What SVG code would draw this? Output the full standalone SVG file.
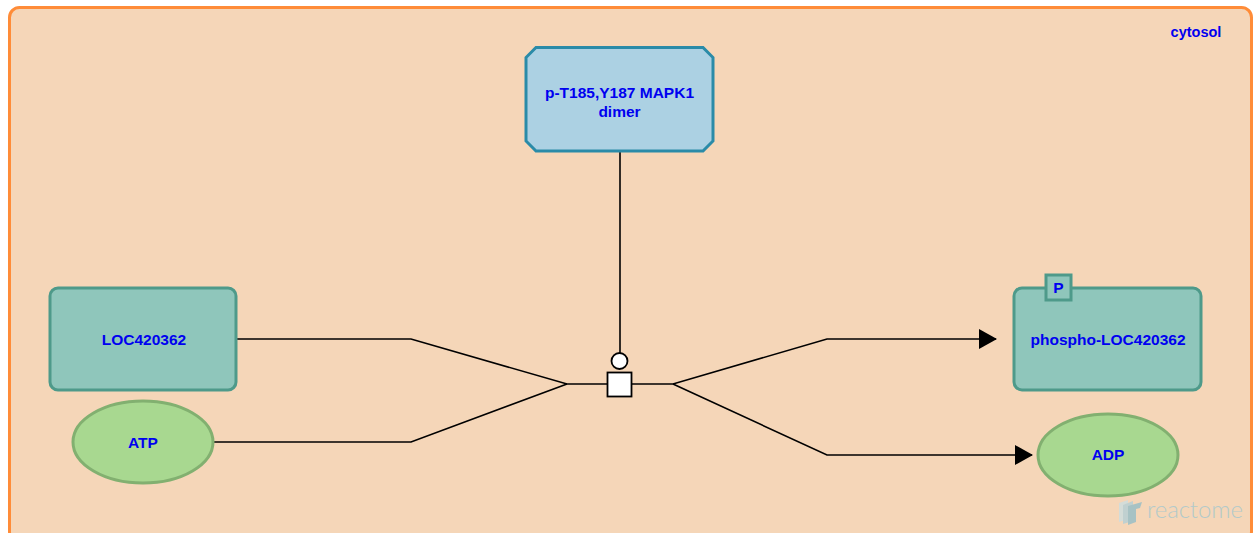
<svg xmlns="http://www.w3.org/2000/svg" width="1257" height="533" viewBox="0 0 1257 533">
<defs>
<style>
.lbl{font-family:"Liberation Sans",Arial,sans-serif;font-weight:bold;font-size:15.5px;fill:#0000F0;text-anchor:middle}
.prot{fill:#8FC6BB;stroke:#4E9A8A;stroke-width:3}
.chem{fill:#A8D890;stroke:#82B070;stroke-width:3}
.cplx{fill:#ACD1E3;stroke:#2A8BA8;stroke-width:3}
.edge{fill:none;stroke:#000;stroke-width:1.6}
</style>
<marker id="arrow" markerWidth="18" markerHeight="20" refX="17" refY="10" orient="auto" markerUnits="userSpaceOnUse" viewBox="0 0 18 20">
<path d="M0,0 L18,10 L0,20 Z" fill="#000"/>
</marker>
</defs>
<g id="cytosol">
<rect x="9.5" y="7.5" width="1242" height="534" rx="10" fill="#F5D6B8" stroke="#FF8C38" stroke-width="3"/>
<text class="lbl" x="1196" y="37" style="font-size:14.5px">cytosol</text>
</g>
<g id="connectors">
<polyline class="edge" points="237,339 411,339 567,384 607,384"/>
<polyline class="edge" points="214,442 411,442 567,384"/>
<line class="edge" x1="620" y1="152" x2="620" y2="353"/>
<polyline class="edge" points="632,384 673,384 827,339 996,339" marker-end="url(#arrow)"/>
<polyline class="edge" points="673,384 827,455 1032,455" marker-end="url(#arrow)"/>
<rect x="607.5" y="372.5" width="24" height="24" fill="#fff" stroke="#000" stroke-width="1.8"/>
<circle cx="619.5" cy="361" r="8" fill="#fff" stroke="#000" stroke-width="1.8"/>
</g>
<g id="MAPK1dimer">
<path class="cplx" d="M536,47.5 H703 L713,57.5 V141 L703,151 H536 L526,141 V57.5 Z"/>
<text class="lbl" x="619.5" y="98">p-T185,Y187 MAPK1</text>
<text class="lbl" x="619.5" y="117">dimer</text>
</g>
<g id="LOC420362">
<rect class="prot" x="50" y="288" width="186" height="102" rx="8"/>
<text class="lbl" x="144" y="345">LOC420362</text>
</g>
<g id="ATP">
<ellipse class="chem" cx="143" cy="442" rx="70" ry="41"/>
<text class="lbl" x="143" y="448">ATP</text>
</g>
<g id="phosphoLOC420362">
<rect class="prot" x="1014" y="288" width="187" height="102" rx="8"/>
<rect x="1046" y="275" width="25" height="25" fill="#8FC6BB" stroke="#4E9A8A" stroke-width="3"/>
<text class="lbl" x="1058.5" y="293">P</text>
<text class="lbl" x="1108" y="345">phospho-LOC420362</text>
</g>
<g id="ADP">
<ellipse class="chem" cx="1108" cy="455" rx="70" ry="41"/>
<text class="lbl" x="1108" y="460">ADP</text>
</g>
<g id="logo" opacity="0.75">
<path d="M1119,503 L1128,500 L1128,519 L1119,522 Z" fill="#C9DEE3"/>
<path d="M1123,505 L1133,501 L1133,521 L1123,524 Z" fill="#AFCFD8"/>
<path d="M1128,506 L1142,502 L1140,508 L1136,509 L1136,522 L1128,525 Z" fill="#8EBCC8"/>
<text x="1195" y="518" text-anchor="middle" style="font-family:Lato,'Open Sans',sans-serif;font-weight:300;font-size:24px;fill:#9CC6D0" textLength="96">reactome</text>
</g>
</svg>
